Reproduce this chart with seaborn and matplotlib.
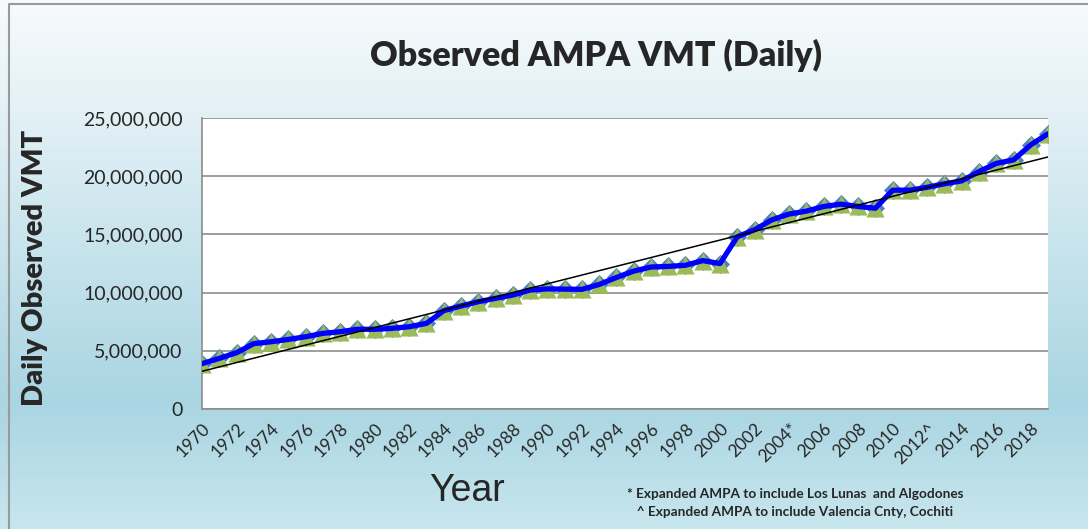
import numpy as np
import pandas as pd
import matplotlib.pyplot as plt
from matplotlib.colors import LinearSegmentedColormap
from matplotlib.ticker import StrMethodFormatter
import seaborn as sns

# Observed daily VMT (millions)
years = list(range(1970, 2020))
vmt_millions = [3.90, 4.35, 4.84, 5.62, 5.78, 5.98, 6.21, 6.50, 6.64, 6.85,
                6.85, 6.93, 7.07, 7.36, 8.45, 8.85, 9.22, 9.51, 9.79, 10.22,
                10.32, 10.30, 10.28, 10.70, 11.30, 11.85, 12.20, 12.25, 12.35, 12.75,
                12.50, 14.80, 15.40, 16.25, 16.75, 17.00, 17.40, 17.60, 17.40, 17.25,
                18.80, 18.80, 19.05, 19.35, 19.60, 20.40, 21.10, 21.40, 22.70, 23.65]
notes = {2004: '*', 2012: '^'}
tick_labels = [f'{y}{notes.get(y, "")}' if y % 2 == 0 else '' for y in years]
footnotes = ['* Expanded AMPA to include Los Lunas  and Algodones',
             '   ^ Expanded AMPA to include Valencia Cnty, Cochiti']

sns.set_style('white')
plt.rcParams['font.family'] = ['Lato', 'DejaVu Sans']

df = pd.DataFrame({'year': years, 'vmt': [v * 1e6 for v in vmt_millions]})

fig = plt.figure(figsize=(10.88, 5.29), dpi=100)

# Background gradient of the chart area
bg = fig.add_axes([0, 0, 1, 1], zorder=-10)
grad = LinearSegmentedColormap.from_list(
    'bg', [(0.0, '#f7fbfc'), (0.2, '#e4f1f6'), (0.76, '#a9d5e2'), (1.0, '#c8e6ee')])
bg.imshow(np.linspace(0, 1, 256).reshape(-1, 1), aspect='auto', cmap=grad,
          extent=[0, 1, 0, 1], origin='upper')
bg.plot([0.0086, 0.0086, 1], [0, 0.992, 0.992], color='#9a9a9a', lw=1.5)
bg.set_xlim(0, 1)
bg.set_ylim(0, 1)
bg.axis('off')

ax = fig.add_axes([0.1857, 0.2268, 0.7776, 0.5501])
ax.set_facecolor('white')

sns.scatterplot(data=df, x='year', y='vmt', marker='D', s=95, color='#4f81bd',
                linewidth=0, ax=ax, zorder=2)
sns.scatterplot(data=df, x='year', y='vmt', marker='^', s=170, color='#9bbb59',
                linewidth=0, ax=ax, zorder=3)
sns.lineplot(data=df, x='year', y='vmt', color='#0000ff', lw=3.8, ax=ax, zorder=4)
sns.regplot(data=df, x='year', y='vmt', scatter=False, ci=None,
            line_kws={'color': 'black', 'lw': 1.1, 'zorder': 5}, ax=ax)

ax.set_xlim(1970, 2019)
ax.set_ylim(0, 25e6)
ax.set_yticks(np.arange(0, 25e6 + 1, 5e6))
ax.yaxis.set_major_formatter(StrMethodFormatter('{x:,.0f}'))
ax.set_xticks(years)
ax.set_xticklabels(tick_labels, rotation=45, ha='right', rotation_mode='anchor')
ax.tick_params(axis='y', direction='out', length=6, width=1.1,
               color='#8c8c8c', labelsize=14, pad=8)
ax.tick_params(axis='x', direction='out', length=5, width=1.1,
               color='#8c8c8c', labelsize=12.5, pad=3)
ax.grid(axis='y', color='#8c8c8c', lw=1.2)
for side in ['top', 'right']:
    ax.spines[side].set_visible(False)
for side in ['left', 'bottom']:
    ax.spines[side].set_color('#8c8c8c')
    ax.spines[side].set_linewidth(1.2)
ax.set_xlabel('')
ax.set_ylabel('Daily Observed VMT', fontsize=21, fontweight='heavy')
ax.yaxis.set_label_coords(-0.182, 0.485)

fig.text(0.548, 0.895, 'Observed AMPA VMT (Daily)', ha='center', va='center',
         fontsize=24.5, fontweight='heavy')
fig.text(0.429, 0.072, 'Year', ha='center', va='center', fontsize=27,
         family='Liberation Sans')
fig.text(0.576, 0.066, footnotes[0], ha='left', va='center', fontsize=9.8,
         fontweight='bold')
fig.text(0.576, 0.032, footnotes[1], ha='left', va='center', fontsize=9.8,
         fontweight='bold')

fig.savefig('out.png', dpi=100)
